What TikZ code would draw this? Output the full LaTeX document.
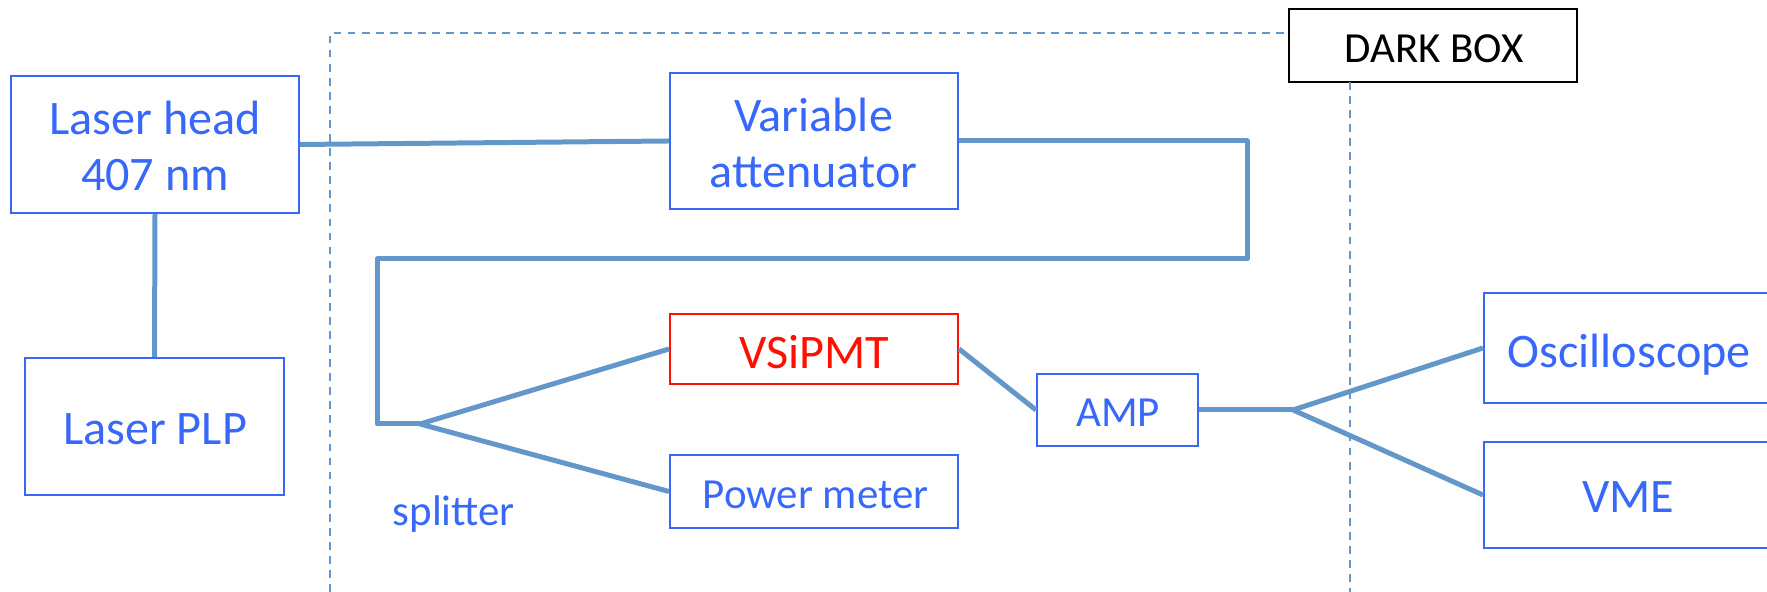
\documentclass[tikz,border=0pt]{standalone}
\usepackage{fontspec}
\setmainfont{Carlito}
\definecolor{wire}{RGB}{99,151,202}
\definecolor{boxblue}{RGB}{56,104,250}
\definecolor{hot}{RGB}{255,16,0}
\begin{document}
\begin{tikzpicture}[x=0.01cm,y=-0.01cm,
  unit/.style={draw=boxblue,line width=0.55pt,inner sep=0pt,rectangle},
  hotunit/.style={draw=hot,line width=0.55pt,inner sep=0pt,rectangle},
  darkbox/.style={draw=black,line width=0.7pt,inner sep=0pt,rectangle},
  big/.style={text=boxblue,inner sep=0pt,anchor=base,font=\fontsize{13.7}{16}\selectfont},
  mid/.style={text=boxblue,inner sep=0pt,anchor=base,font=\fontsize{12.2}{14}\selectfont},
  wire/.style={draw=wire,line width=1.42pt,line join=round},
  boundary/.style={draw=wire,line width=0.55pt,dash pattern=on 2.2pt off 1.8pt}]
\useasboundingbox (0,0) rectangle (1767,592);
\clip (0,0) rectangle (1767,592);

% equipment boxes
\node[unit,minimum width=2.88cm,minimum height=1.37cm] (head) at (155,144.5) {};
\node[unit,minimum width=2.59cm,minimum height=1.37cm] (plp) at (154.5,426.5) {};
\node[unit,minimum width=2.88cm,minimum height=1.36cm] (att) at (814,141) {};
\node[hotunit,minimum width=2.88cm,minimum height=0.70cm] (sipm) at (814,349) {};
\node[unit,minimum width=2.88cm,minimum height=0.73cm] (pm) at (814,491.5) {};
\node[unit,minimum width=1.61cm,minimum height=0.72cm] (amp) at (1117.5,410) {};
\node[unit,minimum width=3.40cm,minimum height=1.10cm] (osc) at (1654,348) {};
\node[unit,minimum width=3.40cm,minimum height=1.06cm] (vme) at (1654,495) {};
\node[darkbox,minimum width=2.88cm,minimum height=0.73cm] (dbox) at (1433,45.5) {};

% labels
\node[big] (head-a) at (155,135) {Laser head};
\node[big] (head-b) at (155,191) {407 nm};
\node[big] (plp-t) at (155,445) {Laser PLP};
\node[big] (att-a) at (813.5,132) {Variable};
\node[big] (att-b) at (813.5,188) {attenuator};
\node[big,text=hot] (sipm-t) at (814.5,369) {VSiPMT};
\node[mid] (pm-t) at (815.5,509) {Power meter};
\node[mid] (amp-t) at (1118,427) {AMP};
\node[big,anchor=base west] (osc-t) at (1507,368) {Oscilloscope};
\node[big] (vme-t) at (1628,513) {VME};
\node[mid,text=black] (dbox-t) at (1434,63) {DARK BOX};
\node[mid,anchor=base west] (split-t) at (392,526) {splitter};

% dark box boundary
\draw[boundary] (330,592) -- (330,33) -- (1289,33);
\draw[boundary] (1350,82) -- (1350,592);

% optical path
\coordinate (bendA) at (1247,141);
\coordinate (bendB) at (1247,259);
\coordinate (bendC) at (377,259);
\coordinate (bendD) at (377,424);
\coordinate (split) at (420,424);
\coordinate (fanout) at (1293,410);
\draw[wire] (head.east) -- (att.west);
\draw[wire] (head.south) -- (plp.north);
\draw[wire] (att.east) -- (bendA) -- (bendB) -- (bendC) -- (bendD) -- (split);
\draw[wire] (split) -- (sipm.west);
\draw[wire] (split) -- (pm.west);

% signal path
\draw[wire] (sipm.east) -- (amp.west);
\draw[wire] (amp.east) -- (fanout);
\draw[wire] (fanout) -- (osc.west);
\draw[wire] (fanout) -- (vme.west);
\end{tikzpicture}
\end{document}
